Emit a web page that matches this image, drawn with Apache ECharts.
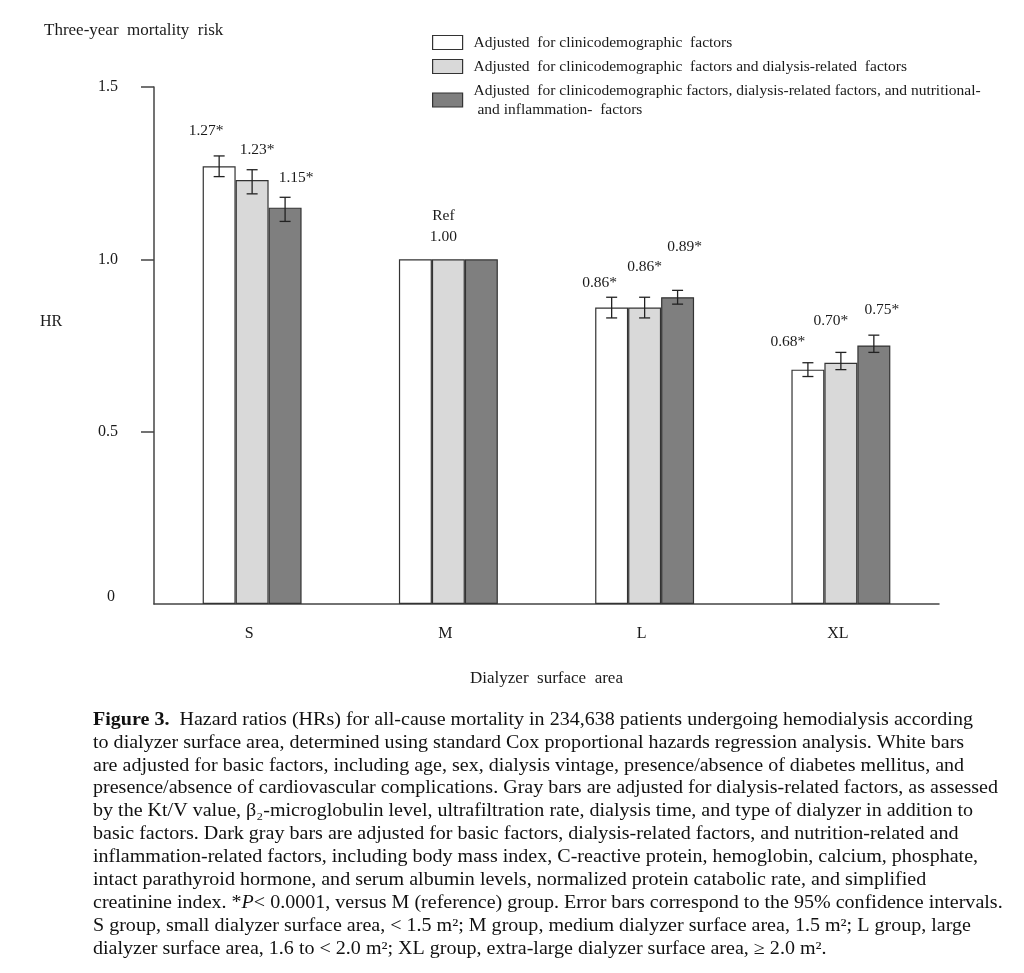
<!DOCTYPE html>
<html>
<head>
<meta charset="utf-8">
<script src="https://cdn.jsdelivr.net/npm/echarts@6/dist/echarts.min.js"></script>
<style>html,body{margin:0;padding:0;background:#fff;}#c{width:1024px;height:973px;}</style>
</head>
<body>
<div id="c"></div>
<script>
// ---------- data ----------
const categories = ['S', 'M', 'L', 'XL'];
const seriesNames = [
  'Adjusted  for clinicodemographic  factors',
  'Adjusted  for clinicodemographic  factors and dialysis-related  factors',
  'Adjusted  for clinicodemographic factors, dialysis-related factors, and nutritional-\n and inflammation-  factors'
];
const hrBasic     = [1.27, 1.00, 0.86, 0.68];
const hrDialysis  = [1.23, 1.00, 0.86, 0.70];
const hrNutrition = [1.15, 1.00, 0.89, 0.75];
const ciLowBasic      = [1.24, null, 0.83, 0.66];
const ciHighBasic     = [1.30, null, 0.89, 0.70];
const ciLowDialysis   = [1.19, null, 0.83, 0.68];
const ciHighDialysis  = [1.26, null, 0.89, 0.73];
const ciLowNutrition  = [1.11, null, 0.87, 0.73];
const ciHighNutrition = [1.18, null, 0.91, 0.78];
const labelsBasic     = ['1.27*', '', '0.86*', '0.68*'];
const labelsDialysis  = ['1.23*', 'Ref\n1.00', '0.86*', '0.70*'];
const labelsNutrition = ['1.15*', '', '0.89*', '0.75*'];
const yTickLabels = [0, 0.5, 1.0, 1.5];

const captionLines = [
  '{b|Figure 3.}  Hazard ratios (HRs) for all-cause mortality in 234,638 patients undergoing hemodialysis according',
  'to dialyzer surface area, determined using standard Cox proportional hazards regression analysis. White bars',
  'are adjusted for basic factors, including age, sex, dialysis vintage, presence/absence of diabetes mellitus, and',
  'presence/absence of cardiovascular complications. Gray bars are adjusted for dialysis-related factors, as assessed',
  'by the Kt/V value, β₂-microglobulin level, ultrafiltration rate, dialysis time, and type of dialyzer in addition to',
  'basic factors. Dark gray bars are adjusted for basic factors, dialysis-related factors, and nutrition-related and',
  'inflammation-related factors, including body mass index, C-reactive protein, hemoglobin, calcium, phosphate,',
  'intact parathyroid hormone, and serum albumin levels, normalized protein catabolic rate, and simplified',
  'creatinine index. *{i|P}< 0.0001, versus M (reference) group. Error bars correspond to the 95% confidence intervals.',
  'S group, small dialyzer surface area, < 1.5 m²; M group, medium dialyzer surface area, 1.5 m²; L group, large',
  'dialyzer surface area, 1.6 to < 2.0 m²; XL group, extra-large dialyzer surface area, ≥ 2.0 m².'
];

// ---------- style / layout constants ----------
const FONT = 'Liberation Serif';
const TEXT = '#1a1a1a';
const barColors = ['#ffffff', '#d9d9d9', '#7f7f7f'];
const BAR_FRACTION = 0.168;
// label nudges (pixels) relative to top of error bar: [series][category]
const labelDx   = [[-13, 0, -12, -20], [5, -5, 0, -10], [11, 0, 7, 8]];
const labelLift = [[25, 0, 14, 21], [20, 33, 30, 31], [19, 0, 43, 25]];

const hrs = [hrBasic, hrDialysis, hrNutrition];
const los = [ciLowBasic, ciLowDialysis, ciLowNutrition];
const his = [ciHighBasic, ciHighDialysis, ciHighNutrition];
const labs = [labelsBasic, labelsDialysis, labelsNutrition];

const errData = [];
for (let s = 0; s < 3; s++) {
  for (let c = 0; c < categories.length; c++) {
    errData.push([c, s, hrs[s][c], los[s][c] == null ? NaN : los[s][c], his[s][c] == null ? NaN : his[s][c], labs[s][c]]);
  }
}

function renderErr(params, api) {
  const c = api.value(0), s = api.value(1), v = api.value(2), lo = api.value(3), hi = api.value(4);
  const item = errData[params.dataIndex];
  const label = item[5];
  const top = api.coord([c, v]);
  const bandW = api.size([1, 0])[0];
  const bw = bandW * BAR_FRACTION;
  const x = top[0] + (s - 1) * bw;
  const children = [];
  let anchorY = top[1];
  if (!isNaN(lo) && !isNaN(hi)) {
    const yHi = api.coord([c, hi])[1];
    const yLo = api.coord([c, lo])[1];
    anchorY = yHi;
    const ls = { stroke: '#222', lineWidth: 1.3 };
    children.push({ type: 'line', shape: { x1: x, y1: yHi, x2: x, y2: yLo }, style: ls });
    children.push({ type: 'line', shape: { x1: x - 5.5, y1: yHi, x2: x + 5.5, y2: yHi }, style: ls });
    children.push({ type: 'line', shape: { x1: x - 5.5, y1: yLo, x2: x + 5.5, y2: yLo }, style: ls });
  }
  if (label) {
    children.push({
      type: 'text',
      style: {
        x: x + labelDx[s][c], y: anchorY - labelLift[s][c],
        text: label, fill: TEXT, fontFamily: FONT, fontSize: 15.5, lineHeight: 21,
        align: 'center', verticalAlign: 'middle'
      }
    });
  }
  return { type: 'group', children };
}

const chart = echarts.init(document.getElementById('c'), null, { renderer: 'canvas' });

// caption width fit (reference caption font is a condensed serif)
const ctx = document.createElement('canvas').getContext('2d');
ctx.font = '18px "' + FONT + '"';
const refLine = captionLines[3];
const capScale = 905 / ctx.measureText(refLine).width;

const graphics = captionLines.map((t, i) => ({
  type: 'text',
  x: 93, y: 720 + i * 22.9,
  scaleX: capScale,
  silent: true,
  style: {
    text: t, x: 0, y: 0, fill: '#111', fontFamily: FONT, fontSize: 18,
    verticalAlign: 'middle', align: 'left',
    rich: {
      b: { fontWeight: 'bold', fontFamily: FONT, fontSize: 18, fill: '#111' },
      i: { fontStyle: 'italic', fontFamily: FONT, fontSize: 18, fill: '#111' }
    }
  }
}));
graphics.push({
  type: 'text', x: 40, y: 322, silent: true,
  style: { text: 'HR', fill: TEXT, fontFamily: FONT, fontSize: 16, verticalAlign: 'middle' }
});

const barSeries = seriesNames.map((n, s) => ({
  type: 'bar', name: n, data: hrs[s],
  barWidth: (BAR_FRACTION * 100) + '%', barGap: '0%',
  itemStyle: { color: barColors[s], borderColor: '#333', borderWidth: 1.2 },
  emphasis: { disabled: true }, z: 2
}));

const option = {
  animation: false,
  backgroundColor: '#fff',
  textStyle: { fontFamily: FONT },
  title: {
    text: 'Three-year  mortality  risk', left: 39, top: 17,
    textStyle: { fontSize: 17, fontWeight: 'normal', color: TEXT, fontFamily: FONT }
  },
  legend: {
    data: seriesNames, orient: 'vertical', left: 432, top: 33,
    itemWidth: 30, itemHeight: 14, itemGap: 5, padding: 0,
    selectedMode: false, icon: 'rect',
    itemStyle: { borderColor: '#333', borderWidth: 1.2 },
    textStyle: { fontSize: 15.5, lineHeight: 19, color: TEXT, fontFamily: FONT, padding: [0, 0, 0, 6] }
  },
  grid: { left: 154, right: 85, top: 87, bottom: 369, containLabel: false, outerBoundsMode: 'none' },
  xAxis: {
    type: 'category', data: categories,
    name: 'Dialyzer  surface  area', nameLocation: 'middle', nameGap: 66,
    nameTextStyle: { fontSize: 17, color: TEXT, fontFamily: FONT },
    axisLine: { lineStyle: { color: '#444', width: 1.5 } },
    axisTick: { length: 13, interval: (i) => i !== 0, lineStyle: { color: '#444', width: 1.5 } },
    axisLabel: { margin: 22, fontSize: 16, color: TEXT, fontFamily: FONT, padding: [0, 6, 0, 0] }
  },
  yAxis: {
    type: 'value', min: 0, max: 1.5, interval: 0.5,
    axisLine: { show: true, lineStyle: { color: '#444', width: 1.5 } },
    axisTick: { show: true, length: 13, customValues: [0.5, 1, 1.5], lineStyle: { color: '#444', width: 1.5 } },
    axisLabel: {
      margin: 36, fontSize: 16, color: TEXT, fontFamily: FONT,
      customValues: yTickLabels,
      formatter: (v) => v === 0 ? '{z|0}' : v.toFixed(1),
      rich: { z: { fontSize: 16, fontFamily: FONT, color: TEXT, padding: [0, 3, 15, 0] } }
    },
    splitLine: { show: false }
  },
  graphic: graphics,
  series: barSeries.concat([{
    type: 'custom', renderItem: renderErr, data: errData, silent: true, z: 5,
    encode: { x: 0, y: 2 }
  }])
};
chart.setOption(option);
</script>
</body>
</html>
